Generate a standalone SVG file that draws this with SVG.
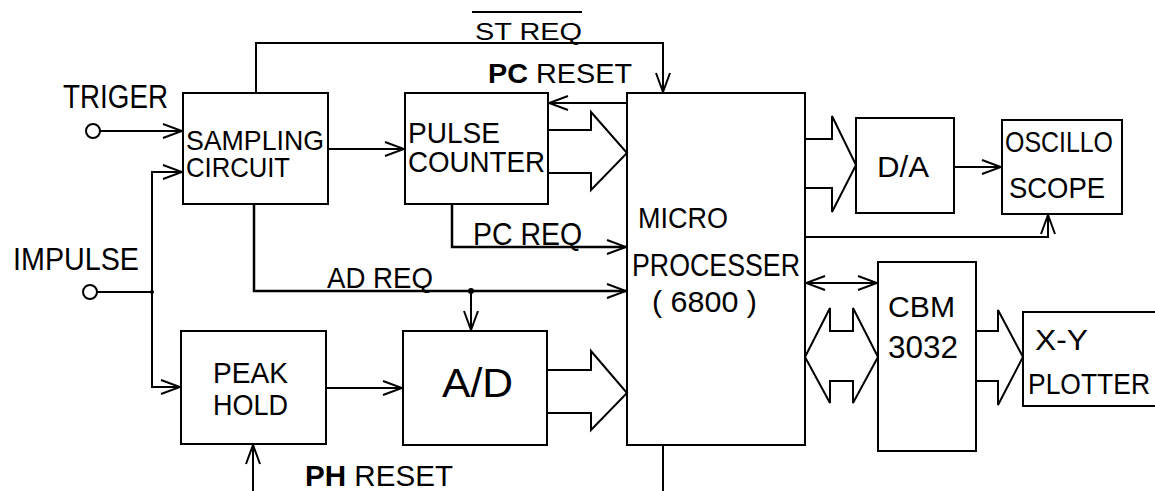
<svg xmlns="http://www.w3.org/2000/svg" width="1155" height="491" viewBox="0 0 1155 491">
<style>
.box{fill:#fff;stroke:#000;stroke-width:2}
.ln{fill:none;stroke:#000;stroke-width:2}
.blk{fill:#fff;stroke:#000;stroke-width:2;stroke-linejoin:miter}
.t{font-family:"Liberation Sans","DejaVu Sans",sans-serif;fill:#000}
.b{font-weight:bold}
</style>
<defs>
<marker id="ah" viewBox="0 0 22 16" refX="20" refY="8" markerWidth="22" markerHeight="16" markerUnits="userSpaceOnUse" orient="auto-start-reverse">
<path d="M1,1 L20,8 L1,15" fill="none" stroke="#000" stroke-width="2"/>
</marker>
</defs>
<rect width="1155" height="491" fill="#fff"/>

<g id="connectors">
<circle cx="93" cy="131" r="7" class="ln"/>
<line x1="100" y1="131" x2="182" y2="131" class="ln" marker-end="url(#ah)"/>
<circle cx="90" cy="292" r="7" class="ln"/>
<line x1="97" y1="292" x2="152" y2="292" class="ln"/>
<circle cx="152" cy="292" r="2" fill="#000"/>
<path d="M152,292 V172 H182" class="ln" marker-end="url(#ah)"/>
<path d="M152,292 V387 H180" class="ln" marker-end="url(#ah)"/>
<line x1="328" y1="149" x2="404" y2="149" class="ln" marker-end="url(#ah)"/>
<path d="M256,93 V43 H663 V92" class="ln" marker-end="url(#ah)"/>
<line x1="627" y1="103" x2="549" y2="103" class="ln" marker-end="url(#ah)"/>
<path d="M254,204 V291 H626" class="ln" style="stroke-width:2.5" marker-end="url(#ah)"/>
<circle cx="471" cy="291" r="3" fill="#000"/>
<line x1="471" y1="291" x2="471" y2="330" class="ln" marker-end="url(#ah)"/>
<path d="M452,204 V247 H626" class="ln" style="stroke-width:2.5" marker-end="url(#ah)"/>
<line x1="326" y1="388" x2="402" y2="388" class="ln" marker-end="url(#ah)"/>
<line x1="253" y1="491" x2="253" y2="445" class="ln" marker-end="url(#ah)"/>
<line x1="663" y1="445" x2="663" y2="491" class="ln"/>
<line x1="954" y1="167" x2="1001" y2="167" class="ln" marker-end="url(#ah)"/>
<path d="M805,237 H1048 V215" class="ln" marker-end="url(#ah)"/>
<line x1="806" y1="283" x2="877" y2="283" class="ln" marker-start="url(#ah)" marker-end="url(#ah)"/>
<path d="M548,130 H591 V112 L627,153 L591,190 V173 H548" class="blk"/>
<path d="M547,370 H591 V351 L627,393 L591,430 V413 H547" class="blk"/>
<path d="M805,139 H832 V116 L856,165 L832,212 V188 H805" class="blk"/>
<path d="M976,331 H998 V310 L1023,357 L998,405 V381 H976" class="blk"/>
<path d="M805,357 L830,308 V331 H853 V308 L878,357 L853,403 V381 H830 V403 Z" class="blk"/>
</g>

<g id="labels">
<text class="t" x="63" y="108" font-size="33" textLength="105" lengthAdjust="spacingAndGlyphs">TRIGER</text>
<text class="t" x="13" y="270" font-size="31" textLength="126" lengthAdjust="spacingAndGlyphs">IMPULSE</text>
<text class="t" x="475" y="40" font-size="24" textLength="107" lengthAdjust="spacingAndGlyphs">ST REQ</text>
<line x1="472" y1="12" x2="582" y2="12" class="ln"/>
<text class="t" x="488" y="83" font-size="27" textLength="144" lengthAdjust="spacingAndGlyphs"><tspan class="b">PC</tspan> RESET</text>
<text class="t" x="473" y="245" font-size="31" textLength="109" lengthAdjust="spacingAndGlyphs">PC REQ</text>
<text class="t" x="327" y="288" font-size="29" textLength="106" lengthAdjust="spacingAndGlyphs">AD REQ</text>
<text class="t" x="305" y="486" font-size="29" textLength="148" lengthAdjust="spacingAndGlyphs"><tspan class="b">PH</tspan> RESET</text>
</g>

<g id="sampling">
<rect x="183" y="93" width="145" height="111" class="box"/>
<text class="t" x="186" y="150" font-size="28" textLength="138" lengthAdjust="spacingAndGlyphs">SAMPLING</text>
<text class="t" x="186" y="177" font-size="28" textLength="104" lengthAdjust="spacingAndGlyphs">CIRCUIT</text>
</g>

<g id="pulsecounter">
<rect x="405" y="93" width="143" height="111" class="box"/>
<text class="t" x="408" y="143" font-size="29" textLength="92" lengthAdjust="spacingAndGlyphs">PULSE</text>
<text class="t" x="408" y="172" font-size="29" textLength="137" lengthAdjust="spacingAndGlyphs">COUNTER</text>
</g>

<g id="micro">
<rect x="627" y="93" width="178" height="352" class="box" style="fill:none"/>
<text class="t" x="638" y="228" font-size="29" textLength="90" lengthAdjust="spacingAndGlyphs">MICRO</text>
<text class="t" x="632" y="276" font-size="32" textLength="168" lengthAdjust="spacingAndGlyphs">PROCESSER</text>
<text class="t" x="652" y="312" font-size="30" textLength="105" lengthAdjust="spacingAndGlyphs">( 6800 )</text>
</g>

<g id="da">
<rect x="856" y="118" width="98" height="95" class="box"/>
<text class="t" x="877" y="177" font-size="30" textLength="52" lengthAdjust="spacingAndGlyphs">D/A</text>
</g>

<g id="oscilloscope">
<rect x="1002" y="120" width="120" height="94" class="box"/>
<text class="t" x="1005" y="152" font-size="30" textLength="108" lengthAdjust="spacingAndGlyphs">OSCILLO</text>
<text class="t" x="1009" y="198" font-size="30" textLength="96" lengthAdjust="spacingAndGlyphs">SCOPE</text>
</g>

<g id="peakhold">
<rect x="181" y="331" width="145" height="113" class="box"/>
<text class="t" x="213" y="383" font-size="29" textLength="75" lengthAdjust="spacingAndGlyphs">PEAK</text>
<text class="t" x="213" y="415" font-size="29" textLength="75" lengthAdjust="spacingAndGlyphs">HOLD</text>
</g>

<g id="ad">
<rect x="403" y="331" width="144" height="114" class="box"/>
<text class="t" x="442" y="397" font-size="41" textLength="71" lengthAdjust="spacingAndGlyphs">A/D</text>
</g>

<g id="cbm">
<rect x="878" y="262" width="98" height="189" class="box"/>
<text class="t" x="888" y="317" font-size="30" textLength="67" lengthAdjust="spacingAndGlyphs">CBM</text>
<text class="t" x="888" y="358" font-size="31" textLength="70" lengthAdjust="spacingAndGlyphs">3032</text>
</g>

<g id="xyplotter">
<rect x="1023" y="312" width="140" height="94" class="box"/>
<text class="t" x="1035" y="350" font-size="30" textLength="53" lengthAdjust="spacingAndGlyphs">X-Y</text>
<text class="t" x="1028" y="394" font-size="29" textLength="122" lengthAdjust="spacingAndGlyphs">PLOTTER</text>
</g>
</svg>
